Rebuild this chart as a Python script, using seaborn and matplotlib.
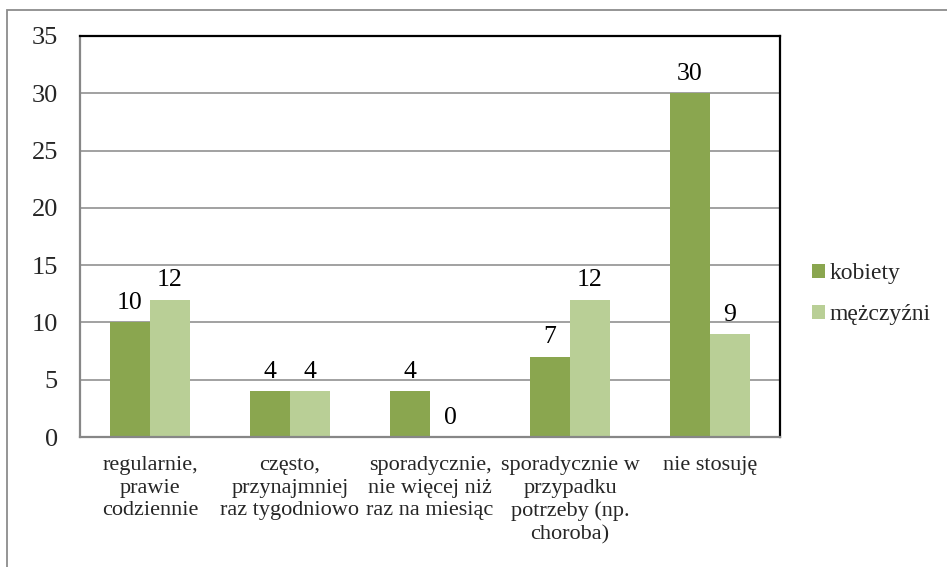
import matplotlib
matplotlib.use("Agg")
import matplotlib.pyplot as plt
import seaborn as sns
import pandas as pd
from matplotlib.patches import Patch, Rectangle

categories = [
    "regularnie,\nprawie\ncodziennie",
    "często,\nprzynajmniej\nraz tygodniowo",
    "sporadycznie,\nnie więcej niż\nraz na miesiąc",
    "sporadycznie w\nprzypadku\npotrzeby (np.\nchoroba)",
    "nie stosuję",
]
series_names = ["kobiety", "mężczyźni"]
kobiety = [10, 4, 4, 7, 30]
mezczyzni = [12, 4, 0, 12, 9]
y_ticks = [0, 5, 10, 15, 20, 25, 30, 35]

colors = ["#8AA64F", "#B9CF96"]

df = pd.DataFrame({
    "kategoria": categories * 2,
    "płeć": [series_names[0]] * len(categories) + [series_names[1]] * len(categories),
    "liczba": kobiety + mezczyzni,
})

sns.set_theme(style="white")
plt.rcParams["font.family"] = ["Liberation Serif", "DejaVu Serif"]

fig = plt.figure(figsize=(9.47, 5.67), dpi=100)
ax = fig.add_axes([80 / 947, 1 - 437 / 567, 700 / 947, 401 / 567])

sns.barplot(data=df, x="kategoria", y="liczba", hue="płeć", order=categories,
            hue_order=series_names, palette=colors, width=0.571, gap=0,
            saturation=1, errorbar=None, legend=False, linewidth=0,
            edgecolor="none", ax=ax)

for cont in ax.containers:
    ax.bar_label(cont, fmt="%g", padding=6, fontsize=18.5, color="black")

ax.set_ylim(0, 35)
ax.set_xlim(-0.5, len(categories) - 0.5)
ax.set_yticks(y_ticks)
ax.set_yticklabels([str(t) for t in y_ticks], fontsize=19)
ax.tick_params(axis="y", length=0, pad=16)
ax.tick_params(axis="x", length=0, pad=14, labelsize=16)
for lbl in ax.get_xticklabels():
    lbl.set_horizontalalignment("center")
    lbl.set_multialignment("center")
    lbl.set_linespacing(1.25)
ax.set_xlabel("")
ax.set_ylabel("")

# horizontal gridlines
for t in y_ticks[1:-1]:
    ax.axhline(t, color="#878787", lw=1.1, zorder=0)
ax.set_axisbelow(True)

for side in ["left", "bottom"]:
    ax.spines[side].set_color("#878787")
    ax.spines[side].set_linewidth(1.6)
for side in ["top", "right"]:
    ax.spines[side].set_color("black")
    ax.spines[side].set_linewidth(1.6)

handles = [Patch(facecolor=c, edgecolor="none") for c in colors]
fig.legend(handles, series_names, loc="center left",
           bbox_to_anchor=(812 / 947, 1 - 294 / 567), frameon=False,
           borderpad=0, borderaxespad=0,
           fontsize=17, handlelength=0.55, handleheight=0.55,
           handletextpad=0.2, labelspacing=0.85)

# outer chart frame
fig.add_artist(Rectangle((7 / 947, -0.05), 1.1, 1 - 10 / 567 + 0.05,
                         transform=fig.transFigure, fill=False,
                         edgecolor="#8C8C8C", lw=1.3, clip_on=False))

fig.savefig("out.png", dpi=100, facecolor="white")
